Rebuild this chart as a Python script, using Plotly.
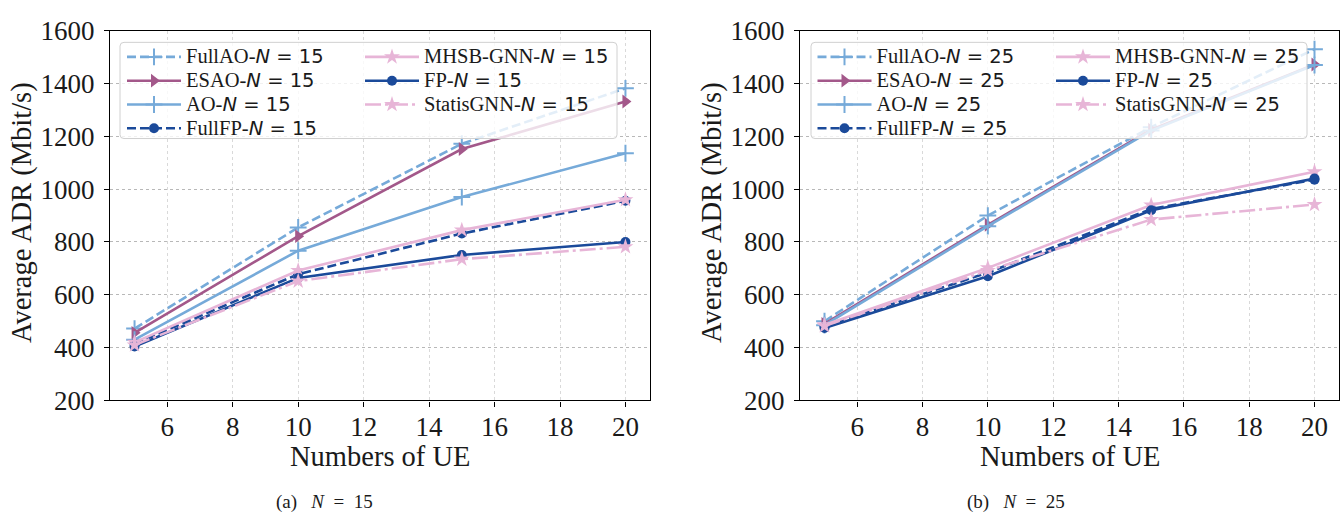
import plotly.graph_objects as go

W, H = 1342, 527

# ---------------- data ----------------
ue = [5, 10, 15, 20]
x_ticks = [6, 8, 10, 12, 14, 16, 18, 20]
y_ticks = [200, 400, 600, 800, 1000, 1200, 1400, 1600]

fullao_15 = [472, 855, 1172, 1382]
esao_15 = [456, 822, 1152, 1332]
ao_15 = [430, 767, 970, 1136]
fullfp_15 = [414, 678, 832, 956]
mhsb_15 = [420, 692, 845, 960]
fp_15 = [404, 664, 751, 800]
statis_15 = [410, 652, 735, 782]

fullao_25 = [500, 900, 1235, 1530]
esao_25 = [490, 865, 1225, 1472]
ao_25 = [485, 860, 1222, 1470]
fullfp_25 = [480, 684, 925, 1036]
mhsb_25 = [486, 702, 940, 1066]
fp_25 = [474, 670, 920, 1040]
statis_25 = [482, 692, 885, 942]

LBLUE = "#76aad9"
PURPLE = "#a3588a"
DBLUE = "#1b4a9a"
PINK = "#e7b5d7"
SERIF = "Liberation Serif"

def px_x(p):
    return p / W

def px_y(p):
    return 1 - p / H

def label(base, n):
    return (f'<span style="font-size:20.5px">{base}-</span>'
            f'<span style="font-family:DejaVu Sans;font-size:19.5px"><i>N</i> = {n}</span>')

series = [
    # name, color, dash, symbol, size, legend column
    ("FullAO", LBLUE, "9px,4px", "cross-thin", 12, 0),
    ("ESAO", PURPLE, "solid", "triangle-right", 12, 0),
    ("AO", LBLUE, "solid", "cross-thin", 12, 0),
    ("FullFP", DBLUE, "9px,4px", "circle", 10, 0),
    ("MHSB-GNN", PINK, "solid", "star", 12, 1),
    ("FP", DBLUE, "solid", "circle", 10, 1),
    ("StatisGNN", PINK, "16px,4px,3px,4px", "star", 12, 1),
]
data15 = [fullao_15, esao_15, ao_15, fullfp_15, mhsb_15, fp_15, statis_15]
data25 = [fullao_25, esao_25, ao_25, fullfp_25, mhsb_25, fp_25, statis_25]

fig = go.Figure()

panels = [
    dict(n=15, data=data15, xa="x", ya="y", legends=("legend", "legend2")),
    dict(n=25, data=data25, xa="x2", ya="y2", legends=("legend3", "legend4")),
]

for p in panels:
    for (name, color, dash, sym, size, col), vals in zip(series, p["data"]):
        fig.add_trace(go.Scatter(
            x=ue, y=vals, mode="lines+markers",
            name=label(name, p["n"]),
            line=dict(color=color, width=2.6, dash=dash),
            marker=dict(symbol=sym, size=size, color=color,
                        line=dict(color=color, width=2 if "cross" in sym else 0)),
            xaxis=p["xa"], yaxis=p["ya"],
            legend=p["legends"][col],
        ))

# plot area in pixels
L_LEFT, L_RIGHT = 110, 650
R_LEFT, R_RIGHT = 800, 1339
TOP, BOTTOM = 16.7, 408.7

axis_common = dict(
    showline=True, linecolor="black", linewidth=1.3, mirror=True,
    ticks="outside", ticklen=5, tickcolor="black", tickwidth=1.2,
    tickfont=dict(family=SERIF, size=27, color="#1a1a1a"),
    showgrid=True, griddash="dot", gridwidth=1, zeroline=False,
)

xaxis_common = dict(axis_common, range=[4.25, 20.75], tickvals=x_ticks,
                    gridcolor="#d9d9d9", ticklabelstandoff=-3)
yaxis_common = dict(axis_common, range=[200, 1600], tickvals=y_ticks,
                    gridcolor="#b8b8b8", ticklabelstandoff=4)

legend_common = dict(
    orientation="v", bgcolor="rgba(0,0,0,0)", borderwidth=0,
    font=dict(family=SERIF, size=16, color="#1a1a1a"),
    itemwidth=54, xanchor="left", yanchor="top", tracegroupgap=0,
    itemclick=False, itemdoubleclick=False,
)
leg_top = px_y(26.5)

fig.update_layout(
    width=W, height=H,
    margin=dict(l=0, r=0, t=0, b=0),
    paper_bgcolor="white", plot_bgcolor="white",
    xaxis=dict(xaxis_common, domain=[px_x(L_LEFT), px_x(L_RIGHT)], anchor="y"),
    yaxis=dict(yaxis_common, domain=[px_y(BOTTOM), px_y(TOP)], anchor="x"),
    xaxis2=dict(xaxis_common, domain=[px_x(R_LEFT), px_x(R_RIGHT)], anchor="y2"),
    yaxis2=dict(yaxis_common, domain=[px_y(BOTTOM), px_y(TOP)], anchor="x2"),
    legend=dict(legend_common, x=px_x(122), y=leg_top),
    legend2=dict(legend_common, x=px_x(360), y=leg_top),
    legend3=dict(legend_common, x=px_x(812.5), y=leg_top),
    legend4=dict(legend_common, x=px_x(1051), y=leg_top),
    showlegend=True,
)

# legend frames (rounded rectangles, semi-transparent like matplotlib)
def rounded_rect(x0, y0, x1, y1, r=4):
    X = lambda v: px_x(v)
    Y = lambda v: px_y(v)
    return (f"M{X(x0 + r)},{Y(y0)} L{X(x1 - r)},{Y(y0)} Q{X(x1)},{Y(y0)} {X(x1)},{Y(y0 + r)} "
            f"L{X(x1)},{Y(y1 - r)} Q{X(x1)},{Y(y1)} {X(x1 - r)},{Y(y1)} "
            f"L{X(x0 + r)},{Y(y1)} Q{X(x0)},{Y(y1)} {X(x0)},{Y(y1 - r)} "
            f"L{X(x0)},{Y(y0 + r)} Q{X(x0)},{Y(y0)} {X(x0 + r)},{Y(y0)} Z")

for (x0, x1) in [(120, 617), (811, 1307)]:
    fig.add_shape(type="path", path=rounded_rect(x0, 29, x1, 131),
                  xref="paper", yref="paper", layer="above",
                  fillcolor="rgba(255,255,255,0.8)",
                  line=dict(color="#d0d0d0", width=1))

# axis titles and captions
title_font = dict(family=SERIF, size=28.5, color="#1a1a1a")
annotations = [
    dict(text="Numbers of UE", x=px_x((L_LEFT + L_RIGHT) / 2), y=px_y(468)),
    dict(text="Numbers of UE", x=px_x((R_LEFT + R_RIGHT) / 2), y=px_y(468)),
    dict(text="Average ADR (Mbit/s)", x=px_x(22), y=px_y(210), textangle=-90),
    dict(text="Average ADR (Mbit/s)", x=px_x(712), y=px_y(210), textangle=-90),
]
for a in annotations:
    fig.add_annotation(xref="paper", yref="paper", showarrow=False,
                       xanchor="center", yanchor="middle", font=title_font,
                       borderpad=0, **a)

cap_font = dict(family=SERIF, size=19, color="#1a1a1a")
for tag, n, cx in [("(a)", 15, 324), ("(b)", 25, 1016)]:
    txt = f"{tag}&nbsp;&nbsp; <i>N</i>&nbsp; =&nbsp; {n}"
    fig.add_annotation(xref="paper", yref="paper", showarrow=False,
                       x=px_x(cx), y=px_y(516), xanchor="center", yanchor="middle",
                       text=txt, font=cap_font)

fig.write_html("out.html")
